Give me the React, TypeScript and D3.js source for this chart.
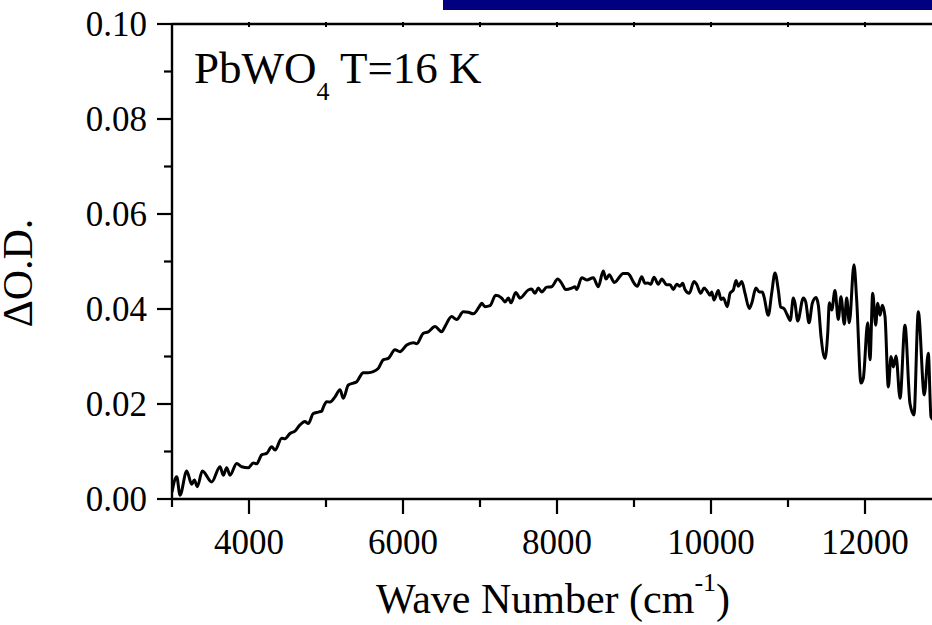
import React from "react";
import * as d3 from "d3";

const WAVENUMBER = [
  3000, 3061, 3104, 3191, 3256, 3290, 3329, 3394, 3516, 3623, 3666, 3710, 3753, 3840, 3905, 3991,
  4056, 4100, 4165, 4230, 4295, 4338, 4425, 4468, 4532, 4597, 4662, 4727, 4770, 4835, 4900, 4944,
  4965, 5009, 5052, 5117, 5182, 5225, 5290, 5355, 5399, 5484, 5549, 5614, 5679, 5744, 5809, 5896,
  5961, 6048, 6134, 6178, 6264, 6329, 6416, 6503, 6545, 6632, 6697, 6783, 6848, 6913, 6991, 7022,
  7065, 7130, 7204, 7282, 7325, 7368, 7403, 7464, 7519, 7627, 7671, 7714, 7757, 7801, 7866, 7931,
  8009, 8061, 8113, 8191, 8234, 8256, 8321, 8386, 8471, 8536, 8601, 8636, 8679, 8744, 8861, 8918,
  8948, 8991, 9043, 9100, 9143, 9180, 9217, 9260, 9316, 9360, 9425, 9468, 9511, 9554, 9597, 9632,
  9662, 9718, 9779, 9814, 9866, 9909, 9944, 9987, 10009, 10039, 10095, 10130, 10160, 10212, 10247, 10290,
  10325, 10355, 10399, 10442, 10497, 10529, 10584, 10627, 10666, 10688, 10744, 10788, 10831, 10874, 10905, 10948,
  10983, 11030, 11069, 11091, 11126, 11199, 11230, 11273, 11316, 11364, 11394, 11429, 11481, 11516, 11537, 11568,
  11610, 11653, 11688, 11731, 11762, 11796, 11857, 11892, 11948, 11978, 12035, 12065, 12100, 12139, 12165, 12195,
  12225, 12260, 12303, 12338, 12368, 12403, 12455, 12519, 12584, 12636, 12692, 12770, 12822, 12857, 12900,
];

const DELTA_OD = [
  0.0015, 0.0047, 0.0008, 0.0059, 0.0031, 0.0040, 0.0026, 0.0059, 0.0036, 0.0068, 0.0050, 0.0066, 0.0050, 0.0075, 0.0068, 0.0066,
  0.0076, 0.0074, 0.0093, 0.0096, 0.0110, 0.0103, 0.0128, 0.0127, 0.0138, 0.0143, 0.0156, 0.0163, 0.0159, 0.0180, 0.0183, 0.0185,
  0.0193, 0.0205, 0.0204, 0.0215, 0.0230, 0.0212, 0.0240, 0.0244, 0.0247, 0.0266, 0.0266, 0.0268, 0.0275, 0.0293, 0.0296, 0.0314,
  0.0310, 0.0324, 0.0329, 0.0327, 0.0349, 0.0352, 0.0363, 0.0352, 0.0363, 0.0384, 0.0378, 0.0394, 0.0393, 0.0390, 0.0405, 0.0412,
  0.0405, 0.0407, 0.0429, 0.0423, 0.0415, 0.0423, 0.0413, 0.0435, 0.0423, 0.0440, 0.0442, 0.0433, 0.0444, 0.0436, 0.0446, 0.0447,
  0.0463, 0.0454, 0.0441, 0.0444, 0.0447, 0.0441, 0.0466, 0.0461, 0.0466, 0.0447, 0.0480, 0.0463, 0.0472, 0.0456, 0.0475, 0.0475,
  0.0470, 0.0457, 0.0448, 0.0468, 0.0454, 0.0455, 0.0452, 0.0467, 0.0452, 0.0463, 0.0451, 0.0451, 0.0441, 0.0452, 0.0448, 0.0454,
  0.0441, 0.0433, 0.0458, 0.0452, 0.0433, 0.0444, 0.0439, 0.0429, 0.0436, 0.0419, 0.0439, 0.0420, 0.0423, 0.0405, 0.0433, 0.0440,
  0.0460, 0.0448, 0.0458, 0.0433, 0.0401, 0.0412, 0.0444, 0.0436, 0.0436, 0.0426, 0.0387, 0.0433, 0.0476, 0.0440, 0.0404, 0.0401,
  0.0390, 0.0376, 0.0423, 0.0412, 0.0375, 0.0423, 0.0415, 0.0371, 0.0412, 0.0424, 0.0408, 0.0342, 0.0296, 0.0349, 0.0413, 0.0398,
  0.0439, 0.0378, 0.0426, 0.0368, 0.0423, 0.0371, 0.0493, 0.0419, 0.0244, 0.0254, 0.0371, 0.0293, 0.0433, 0.0366, 0.0412, 0.0387,
  0.0408, 0.0384, 0.0236, 0.0300, 0.0278, 0.0301, 0.0212, 0.0366, 0.0201, 0.0177, 0.0394, 0.0219, 0.0307, 0.0173, 0.0165,
];

const X_MAJOR_TICKS = [4000, 6000, 8000, 10000, 12000];
const X_MINOR_TICKS = [3000, 5000, 7000, 9000, 11000];
const Y_MAJOR_TICKS = [0, 0.02, 0.04, 0.06, 0.08, 0.1];
const Y_MINOR_TICKS = [0.01, 0.03, 0.05, 0.07, 0.09];
const TOP_TICKS = [4000, 5000, 6000, 7000, 8000, 9000, 10000, 11000, 12000];

const FONT = "'Liberation Serif', 'Times New Roman', Times, serif";

export default function App() {
  const W = 932;
  const H = 625;
  const x = d3.scaleLinear().domain([3000, 13000]).range([172, 942]);
  const y = d3.scaleLinear().domain([0, 0.1]).range([499, 24]);

  const data = WAVENUMBER.map((w, i) => [w, DELTA_OD[i]] as [number, number]);
  const line = d3
    .line<[number, number]>()
    .x((d) => x(d[0]))
    .y((d) => y(d[1]))
    .curve(d3.curveMonotoneX);

  const x0 = x(3000);
  const yb = y(0);
  const yt = y(0.1);

  return (
    <svg
      width={W}
      height={H}
      style={{ position: "absolute", left: 0, top: 0, display: "block", background: "#fff" }}
      fontFamily={FONT}
    >
      <defs>
        <clipPath id="plotclip">
          <rect x={x0} y={0} width={W - x0} height={yb + 2} />
        </clipPath>
      </defs>
      <rect x={0} y={0} width={W} height={H} fill="#fff" />
      <rect x={443} y={0} width={W - 443} height={10} fill="#000080" />

      {/* data */}
      <path
        d={line(data) || ""}
        fill="none"
        stroke="#000"
        strokeWidth={3}
        strokeLinejoin="round"
        clipPath="url(#plotclip)"
      />

      {/* axes */}
      <line x1={x0} x2={W} y1={yb} y2={yb} stroke="#000" strokeWidth={2.4} />
      <line x1={x0} x2={W} y1={yt} y2={yt} stroke="#000" strokeWidth={2.4} />
      <line x1={x0} x2={x0} y1={yt - 1} y2={yb + 1} stroke="#000" strokeWidth={2.4} />

      {X_MAJOR_TICKS.map((t) => (
        <line key={"xm" + t} x1={x(t)} x2={x(t)} y1={yb} y2={yb + 15} stroke="#000" strokeWidth={2.2} />
      ))}
      {X_MINOR_TICKS.map((t) => (
        <line key={"xn" + t} x1={x(t)} x2={x(t)} y1={yb} y2={yb + 8} stroke="#000" strokeWidth={2.2} />
      ))}
      {TOP_TICKS.map((t) => (
        <line key={"xt" + t} x1={x(t)} x2={x(t)} y1={yt - 2} y2={yt + 3} stroke="#000" strokeWidth={2} />
      ))}
      {Y_MAJOR_TICKS.map((t) => (
        <line key={"ym" + t} x1={x0 - 15} x2={x0} y1={y(t)} y2={y(t)} stroke="#000" strokeWidth={2.2} />
      ))}
      {Y_MINOR_TICKS.map((t) => (
        <line key={"yn" + t} x1={x0 - 8} x2={x0} y1={y(t)} y2={y(t)} stroke="#000" strokeWidth={2.2} />
      ))}

      {/* tick labels */}
      {X_MAJOR_TICKS.map((t) => (
        <text key={"xl" + t} x={x(t)} y={554} fontSize={35} textAnchor="middle" fill="#000">
          {String(t)}
        </text>
      ))}
      {Y_MAJOR_TICKS.map((t) => (
        <text key={"yl" + t} x={147} y={y(t)} dy="0.34em" fontSize={35} textAnchor="end" fill="#000">
          {t.toFixed(2)}
        </text>
      ))}

      {/* axis titles */}
      <text x={553} y={613} fontSize={42} textAnchor="middle" fill="#000">
        Wave Number (cm
        <tspan fontSize={26} dy={-22}>-1</tspan>
        <tspan fontSize={42} dy={22}>)</tspan>
      </text>
      <text
        transform={`translate(32, 273) rotate(-90)`}
        fontSize={42}
        textAnchor="middle"
        fill="#000"
      >
        ΔO.D.
      </text>

      {/* annotation */}
      <text x={194} y={83} fontSize={45} fill="#000">
        PbWO
        <tspan fontSize={26} dy={17}>4</tspan>
        <tspan fontSize={45} dy={-17}> T=16 K</tspan>
      </text>
    </svg>
  );
}
